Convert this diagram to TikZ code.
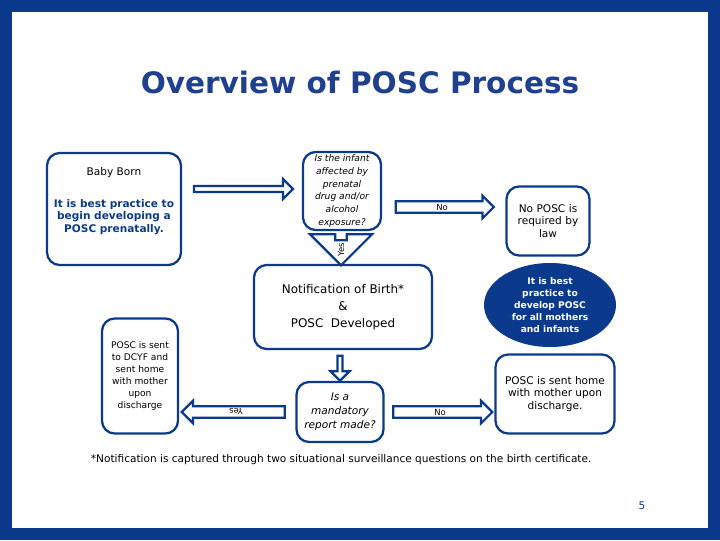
\documentclass[tikz,border=0pt]{standalone}
\usepackage{fontspec}
\setmainfont{DejaVu Sans}
\usetikzlibrary{positioning, shapes.arrows, shapes.geometric, calc}
\definecolor{navy}{HTML}{0B3A8C}
\definecolor{titleblue}{HTML}{1F3F8F}
\tikzset{
    box/.style={draw=navy, line width=1.6pt, rounded corners=9pt, fill=white, align=center, inner sep=1pt},
    hollow/.style={single arrow, draw=navy, line width=1.6pt, fill=white, single arrow head extend=4pt, inner sep=1pt, font=\fontsize{6}{7}\selectfont, anchor=center},
    every node/.style={font=\fontsize{7.5}{9}\selectfont}
}
\begin{document}
\begin{tikzpicture}[x=0.025cm, y=-0.025cm]
    \useasboundingbox (0,0) rectangle (720,540);
    % frame
    \fill[navy] (0,0) rectangle (720,540);
    \fill[white] (12,12) rectangle (708,528);
    \node[text=titleblue, font=\fontsize{21}{24}\selectfont\bfseries] (title) at (360,82) {Overview of POSC Process};
    % boxes
    \node[box, minimum width=134*0.025cm, minimum height=112*0.025cm] (born) at (114,209) {};
    \node (bornA) at (114,173) {Baby Born};
    \node[text=navy, font=\fontsize{7.5}{9}\selectfont\bfseries, align=center] (bornB) at (114,217) {It is best practice to\\begin developing a\\POSC prenatally.};
    \node[box, minimum width=78*0.025cm, minimum height=78*0.025cm, font=\fontsize{6.5}{9}\selectfont\itshape] (affected) at (342,191) {Is the infant\\affected by\\prenatal\\drug and/or\\alcohol\\exposure?};
    \node[box, minimum width=83*0.025cm, minimum height=69*0.025cm, text width=70*0.025cm] (nolaw) at (548,221) {No POSC is\\required by\\law};
    \node[box, minimum width=178*0.025cm, minimum height=84*0.025cm, font=\fontsize{8.5}{12}\selectfont] (notify) at (343,307) {Notification of Birth*\\\&\\POSC\ \ Developed};
    \node[ellipse, fill=navy, text=white, minimum width=132*0.025cm, minimum height=84*0.025cm, align=center, inner sep=0pt, font=\fontsize{6.5}{8.5}\selectfont\bfseries] (best) at (550,305) {It is best\\practice to\\develop POSC\\for all mothers\\and infants};
    \node[box, minimum width=87*0.025cm, minimum height=60*0.025cm, font=\fontsize{7.5}{10}\selectfont\itshape] (mandatory) at (340,412) {Is a\\mandatory\\report made?};
    \node[box, minimum width=76*0.025cm, minimum height=115*0.025cm, font=\fontsize{6.5}{8.5}\selectfont] (dcyf) at (140,376) {POSC is sent\\to DCYF and\\sent home\\with mother\\upon\\discharge};
    \node[box, minimum width=119*0.025cm, minimum height=79*0.025cm] (home) at (555,394) {POSC is sent home\\with mother upon\\discharge.};
    % hollow arrows
    \node[hollow, minimum width=20*0.025cm, minimum height=99*0.025cm] (a1) at ($(born.east)!0.5!(affected.west)+(0,-11)$) {};
    \node[hollow, minimum width=20*0.025cm, minimum height=98*0.025cm] (a2) at (442,207) {No};
    \node[hollow, minimum width=18*0.025cm, minimum height=25*0.025cm, single arrow head extend=18pt, shape border rotate=270] (a3) at (341,250) {\rotatebox{90}{Yes}};
    \node[hollow, minimum width=14*0.025cm, minimum height=25*0.025cm, single arrow head extend=5pt, shape border rotate=270] (a4) at (340,367) {};
    \node[hollow, minimum width=20*0.025cm, minimum height=103*0.025cm, shape border rotate=180] (a5) at (236,412) {\rotatebox{180}{Yes}};
    \node[hollow, minimum width=20*0.025cm, minimum height=99*0.025cm] (a6) at (440,412) {No};
    % footnote
    \node[anchor=west, font=\fontsize{7.5}{9}\selectfont] (note) at (86,460) {*Notification is captured through two situational surveillance questions on the birth certificate.};
    \node[text=navy, font=\fontsize{7.5}{9}\selectfont] (page) at (642,506) {5};
\end{tikzpicture}
\end{document}
